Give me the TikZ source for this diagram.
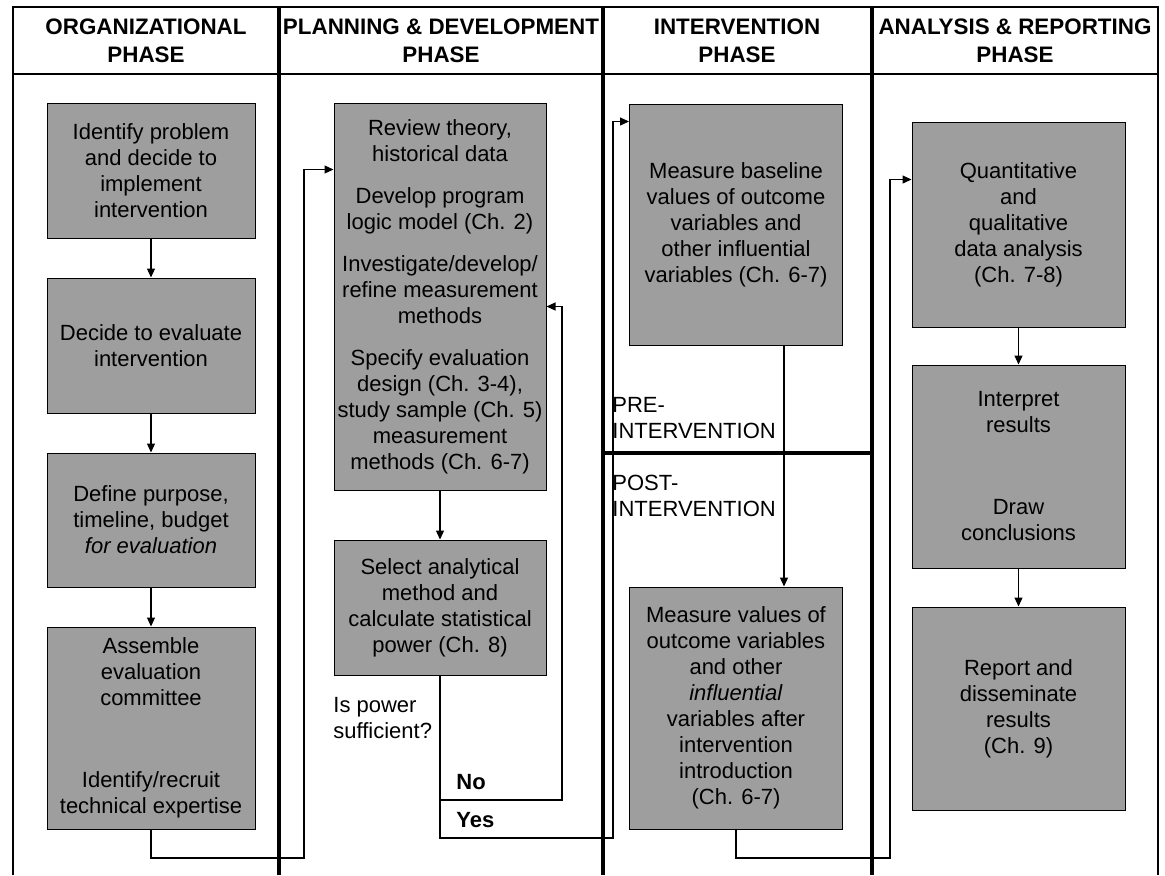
\documentclass[tikz,border=0pt]{standalone}
\usepackage{fontspec}
\setmainfont{Liberation Sans}
\usepackage{tikz}
\usetikzlibrary{arrows.meta,calc}

\begin{document}
\begin{tikzpicture}[x=0.5pt,y=-0.5pt,>={Triangle[length=4.5pt,width=4pt]},
  phasebox/.style={draw=black,line width=0.5pt,fill=black!38,align=center,inner sep=0pt,
    font=\fontsize{11}{13}\selectfont},
  phasehead/.style={align=center,font=\fontsize{11.2}{14}\selectfont\bfseries},
  lbl/.style={align=left,anchor=west,inner sep=0pt,font=\fontsize{11}{13}\selectfont},
  conn/.style={->,line width=0.6pt}]
  \useasboundingbox (0,0) rectangle (1165,875);
  \fill[white] (0,0) rectangle (1165,875);
  \draw[line width=1pt] (13,875) -- (13,7) -- (1158,7) -- (1158,875);
  \draw[line width=1pt] (13,74) -- (1158,74);
  \foreach \x in {279,603,872}{
    \draw[line width=1.6pt] (\x,7) -- (\x,875);
  }
  \draw[line width=1.6pt] (603,453) -- (872,453);
  \node[phasehead] (head1) at (146,41) {ORGANIZATIONAL\\PHASE};
  \node[phasehead] (head2) at (441,41) {PLANNING \& DEVELOPMENT\\PHASE};
  \node[phasehead] (head3) at (737,41) {INTERVENTION\\PHASE};
  \node[phasehead] (head4) at (1015,41) {ANALYSIS \& REPORTING\\PHASE};
  \node[phasebox,minimum width=104pt,minimum height=67.5pt] (ident) at (151,170.5)
    {Identify problem\\and decide to\\implement\\intervention};
  \node[phasebox,minimum width=104pt,minimum height=67.5pt] (decide) at (151,345.5)
    {Decide to evaluate\\intervention};
  \node[phasebox,minimum width=104pt,minimum height=67pt] (define) at (151,520)
    {Define purpose,\\timeline, budget\\\textit{for evaluation}};
  \node[phasebox,minimum width=104pt,minimum height=101pt] (assemble) at (151,728)
    {Assemble\\evaluation\\committee\\[28pt]Identify/recruit\\technical expertise};
  \node[phasebox,minimum width=106pt,minimum height=193.5pt] (review) at (440,296.5)
    {Review theory,\\historical data\\[8pt]Develop program\\logic model (Ch. 2)\\[8pt]Investigate/develop/\\refine measurement\\methods\\[8pt]Specify evaluation\\design (Ch. 3-4),\\study sample (Ch. 5)\\measurement\\methods (Ch. 6-7)};
  \node[phasebox,minimum width=106pt,minimum height=67.5pt] (select) at (440,607.5)
    {Select analytical\\method and\\calculate statistical\\power (Ch. 8)};
  \node[phasebox,minimum width=106.5pt,minimum height=120.5pt] (baseline) at (736,224.5)
    {Measure baseline\\values of outcome\\variables and\\other influential\\variables (Ch. 6-7)};
  \node[phasebox,minimum width=106.5pt,minimum height=121pt] (values) at (736,708)
    {Measure values of\\outcome variables\\and other\\\textit{influential}\\variables after\\intervention\\introduction\\(Ch. 6-7)};
  \node[phasebox,minimum width=106.5pt,minimum height=102.5pt] (quant) at (1018.5,224.5)
    {Quantitative\\and\\qualitative\\data analysis\\(Ch. 7-8)};
  \node[phasebox,minimum width=106.5pt,minimum height=101.5pt] (interp) at (1018.5,466.5)
    {Interpret\\results\\[28pt]Draw\\conclusions};
  \node[phasebox,minimum width=106.5pt,minimum height=101.5pt] (report) at (1018.5,708.5)
    {Report and\\disseminate\\results\\(Ch. 9)};
  \node[lbl] (power) at (333,718) {Is power\\sufficient?};
  \node[lbl,font=\fontsize{11}{13}\selectfont\bfseries] (nolbl) at (456,782) {No};
  \node[lbl,font=\fontsize{11}{13}\selectfont\bfseries] (yeslbl) at (456,820) {Yes};
  \node[lbl] (pre) at (612,418) {PRE-\\INTERVENTION};
  \node[lbl] (post) at (612,496) {POST-\\INTERVENTION};
  \coordinate (c1) at (304,858);
  \coordinate (yes) at (613,838);
  \coordinate (no) at (562,800);
  \coordinate (c3) at (890,858);
  \draw[conn] (ident.south) -- (decide.north);
  \draw[conn] (decide.south) -- (define.north);
  \draw[conn] (define.south) -- (assemble.north);
  \draw[conn] (assemble.south) |- (c1) |- ($(review.north west)+(0,67)$);
  \draw[conn] (review.south) -- (select.north);
  \draw[conn] (select.south) |- (yes) |- ($(baseline.north west)+(0,18)$);
  \draw[conn] (select.south |- no) -- (no) |- ($(review.north east)+(0,204)$);
  \draw[conn] ($(baseline.south)+(48,0)$) -- ($(values.north)+(48,0)$);
  \draw[conn] (values.south) |- (c3) |- ($(quant.north west)+(0,58)$);
  \draw[conn] (quant.south) -- (interp.north);
  \draw[conn] (interp.south) -- (report.north);
\end{tikzpicture}
\end{document}
